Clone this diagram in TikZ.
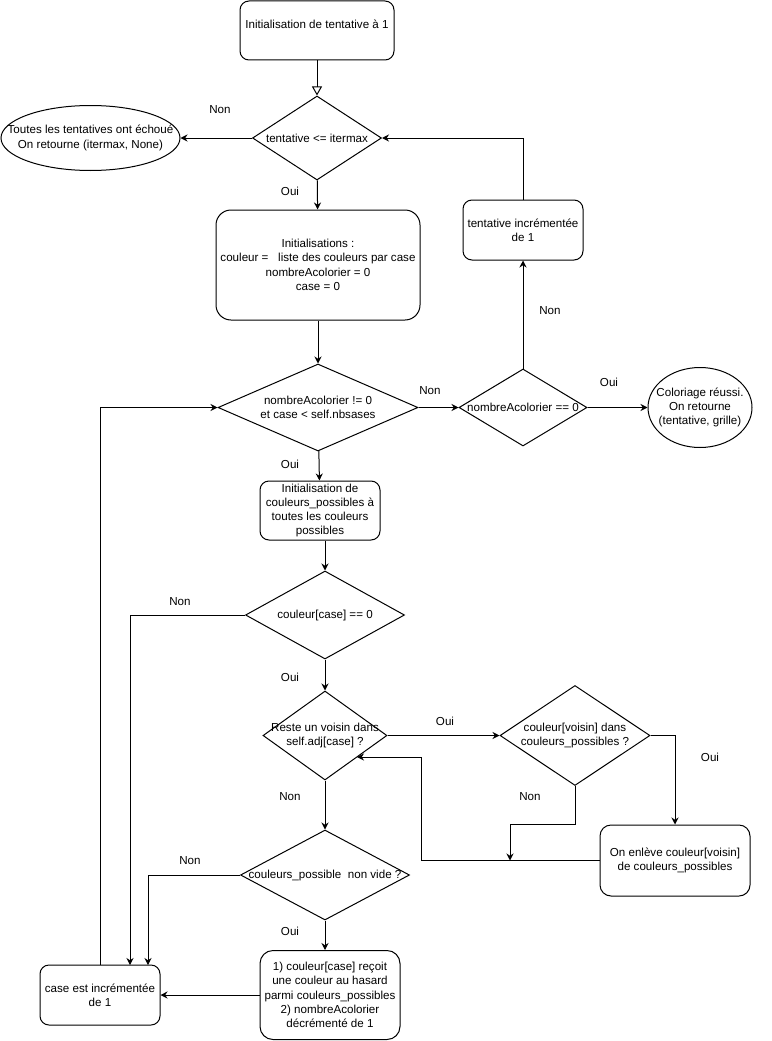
\documentclass[tikz,border=0pt]{standalone}
\usepackage{fontspec}
\setmainfont{Liberation Sans}
\usetikzlibrary{shapes.geometric,arrows.meta}

\begin{document}
\begin{tikzpicture}[x=1pt, y=1pt, line width=1pt, font=\fontsize{11.6}{14.3}\selectfont,
    box/.style = {draw, rounded corners=9pt, align=center, inner sep=1pt},
    dec/.style = {draw, diamond, inner sep=0pt},
    oval/.style = {draw, ellipse, inner sep=0pt},
    txt/.style = {align=center, inner sep=0pt},
    arr/.style = {-{Stealth[length=7pt, width=7pt]}}]
    \path[use as bounding box, fill=white] (0,0) rectangle (771,-1041);

    \node[box, minimum width=154, minimum height=59, text depth=12pt] (1) at (317,-30.5) {Initialisation de tentative à 1};
    \node[dec, minimum width=129, minimum height=84] (2) at (317,-138) {};
    \node[txt] (2t) at (2) {tentative <= itermax};
    \node[oval, minimum width=179, minimum height=65] (3) at (90.5,-138) {};
    \node[txt] (3t) at (3) {Toutes les tentatives ont échoué\\On retourne (itermax, None)};
    \node[box, rounded corners=15pt, minimum width=204, minimum height=110] (4) at (318,-265) {Initialisations :\\couleur = \ \ liste des couleurs par case\\nombreAcolorier = 0\\case = 0};
    \node[dec, minimum width=200, minimum height=87] (5) at (318,-407.5) {};
    \node[txt] (5t) at (5) {nombreAcolorier != 0\\et case < self.nbsases};
    \node[dec, minimum width=128, minimum height=77] (6) at (523,-407.5) {};
    \node[txt] (6t) at (6) {nombreAcolorier == 0};
    \node[oval, minimum width=104, minimum height=80] (7) at (700,-407.5) {};
    \node[txt] (7t) at (7) {Coloriage réussi.\\On retourne\\(tentative, grille)};
    \node[box, minimum width=120, minimum height=60] (8) at (523,-230) {tentative incrémentée\\de 1};
    \node[box, minimum width=120, minimum height=59] (9) at (320,-510.5) {Initialisation de\\couleurs\_possibles à\\toutes les couleurs\\possibles};
    \node[dec, minimum width=159, minimum height=88] (10) at (325,-615) {};
    \node[txt] (10t) at (10) {couleur[case] == 0};
    \node[dec, minimum width=124, minimum height=89] (11) at (325,-735.5) {};
    \node[txt] (11t) at (11) {Reste un voisin dans\\self.adj[case] ?};
    \node[dec, minimum width=150, minimum height=100] (12) at (575,-735.5) {};
    \node[txt] (12t) at (12) {couleur[voisin] dans\\couleurs\_possibles ?};
    \node[box, rounded corners=11pt, minimum width=150, minimum height=71] (13) at (675,-860.5) {On enlève couleur[voisin]\\de couleurs\_possibles};
    \node[dec, minimum width=169, minimum height=90] (14) at (325,-875) {};
    \node[txt] (14t) at (14) {couleurs\_possible\ \ non vide ?};
    \node[box, rounded corners=13pt, minimum width=140, minimum height=89] (15) at (330,-995) {1) couleur[case] reçoit\\une couleur au hasard\\parmi couleurs\_possibles\\2) nombreAcolorier\\décrémenté de 1};
    \node[box, minimum width=120, minimum height=60] (16) at (100,-995) {case est incrémentée\\de 1};

    \coordinate (c1) at (130,-965);
    \coordinate (c2) at (148,-965);
    \coordinate (c3) at (510,-860.5);
    \coordinate (c4) at (421,-757);
    \coordinate (c5) at (357,-757);

    \draw[-{Triangle[open, length=9pt, width=10pt]}] (1) -- (2);
    \draw[arr] (2) -- (3);
    \draw[arr] (2) -- (4);
    \draw[arr] (4) -- (5);
    \draw[arr] (5) -- (6);
    \draw[arr] (6) -- (7);
    \draw[arr] (6) -- (8);
    \draw[arr] (8) |- (2);
    \draw[arr] (5) -- (9);
    \draw[arr] (10.north |- 9.south) -- (10);
    \draw[arr] (10) -| (c1);
    \draw[arr] (10) -- (11);
    \draw[arr] (11) -- (12);
    \draw[arr] (12) -| (13);
    \draw[arr] (12.south) -- ++(0,-38) -| (c3);
    \draw[arr] (13) -| (c4) -- (c5);
    \draw[arr] (11) -- (14);
    \draw[arr] (14) -| (c2);
    \draw[arr] (14.south) -- (14.south |- 15.north);
    \draw[arr] (15) -- (16);
    \draw[arr] (16) |- (5);

    \node (l1) at (220,-110) {Non};
    \node (l2) at (290,-191) {Oui};
    \node (l3) at (430,-391) {Non};
    \node (l4) at (550,-311) {Non};
    \node (l5) at (609,-382) {Oui};
    \node (l6) at (290,-464) {Oui};
    \node (l7) at (180,-602) {Non};
    \node (l8) at (290,-677) {Oui};
    \node (l9) at (445,-721) {Oui};
    \node (l10) at (710,-757) {Oui};
    \node (l11) at (530,-797) {Non};
    \node (l12) at (290,-797) {Non};
    \node (l13) at (190,-861) {Non};
    \node (l14) at (290,-931) {Oui};
\end{tikzpicture}
\end{document}
